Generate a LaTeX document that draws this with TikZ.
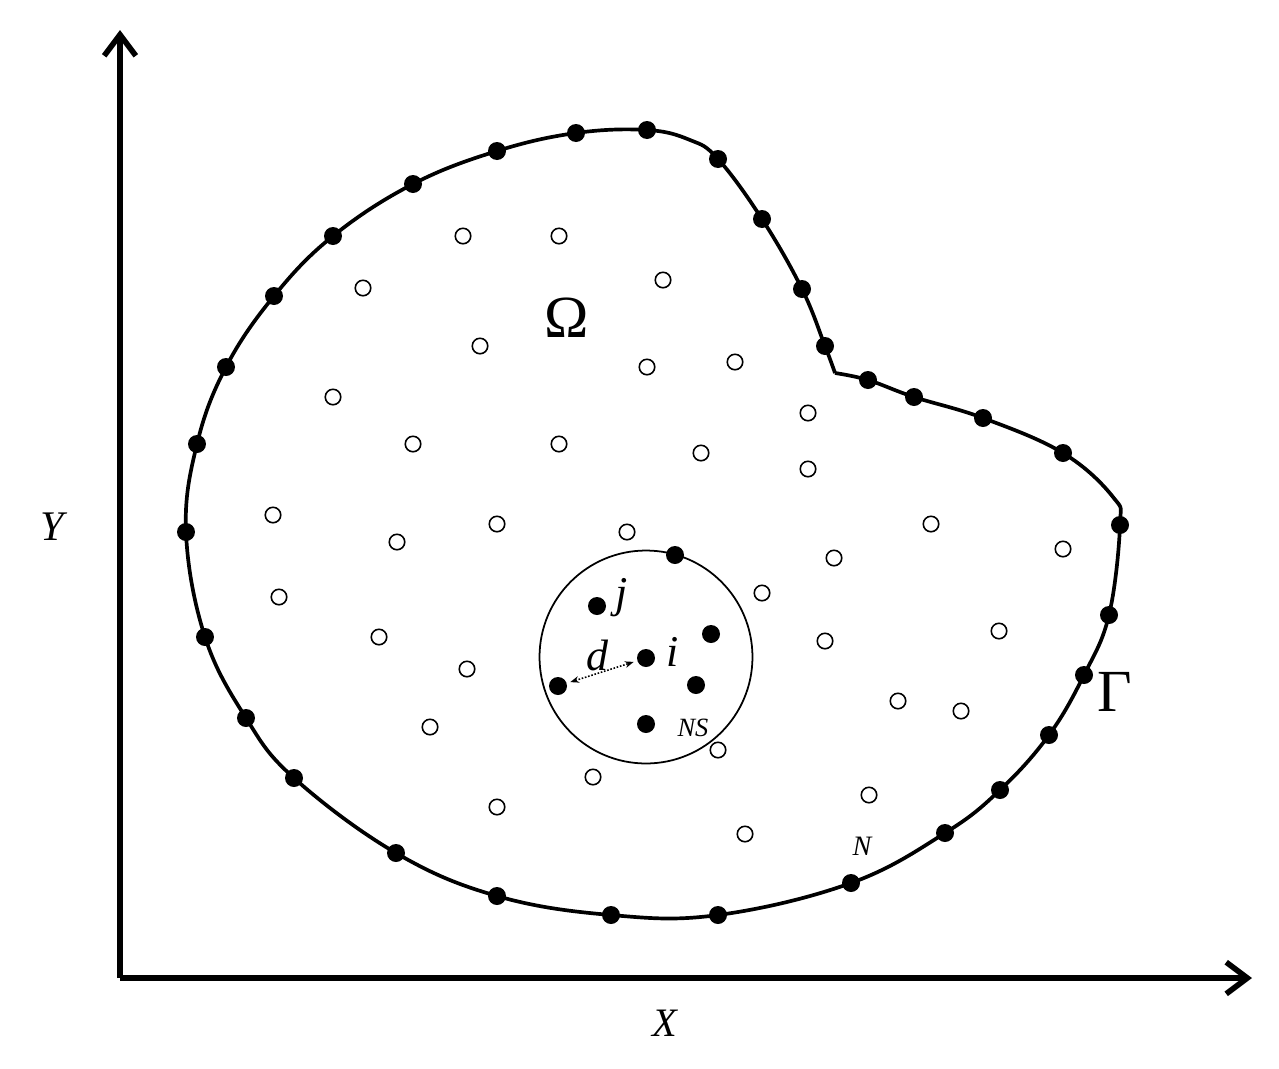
\documentclass[tikz,border=0pt]{standalone}
\usepackage{fontspec}
\setmainfont{Liberation Serif}
\usetikzlibrary{arrows.meta, positioning}

\begin{document}
\begin{tikzpicture}[x=0.02cm, y=-0.02cm,
  axis/.style={line width=3.2pt, -{Straight Barb[length=12pt, width=18pt]}},
  bnd/.style={line width=2.1pt, line join=round},
  bdot/.style={circle, fill=black, inner sep=0pt, minimum size=0.36cm},
  idot/.style={circle, draw=black, fill=white, line width=0.9pt, inner sep=0pt, minimum size=0.31cm},
  lbl/.style={font=\fontsize{25}{25}\selectfont\itshape, inner sep=0pt}
]
  \useasboundingbox (0,0) rectangle (1279,1069);

  % axes
  \coordinate (o) at (120,978);
  \coordinate (ytip) at (120,30);
  \coordinate (xtip) at (1252,978);
  \draw[axis] (o) -- (ytip);
  \draw[axis] (o) -- (xtip);
  \node[font=\fontsize{24}{24}\selectfont\itshape] (ylab) at (52,527) {Y};
  \node[font=\fontsize{23}{23}\selectfont\itshape] (xlab) at (665,1023) {X};

  % boundary Gamma
  \draw[bnd] plot[smooth, tension=0.65] coordinates {
    (835,373) (868,380) (914,397) (983,418) (1063,453) (1113,497) (1120,525)
    (1109,615) (1084,675) (1049,735) (1000,790) (945,833) (851,883)
    (718,915) (611,915) (497,896) (396,853) (294,778) (246,718)
    (205,637) (186,532) (197,444) (226,367) (274,296) (333,236) (413,184)
    (497,151) (576,133) (647,130) (690,140) (718,159) (762,219) (802,289)
    (825,346) (835,373)};

  \foreach \x/\y [count=\k] in {647/130, 718/159, 762/219, 802/289, 825/346,
      868/380, 914/397, 983/418, 1063/453, 1120/525, 1109/615, 1084/675,
      1049/735, 1000/790, 945/833, 851/883, 718/915, 611/915, 497/896,
      396/853, 294/778, 246/718, 205/637, 186/532, 197/444, 226/367,
      274/296, 333/236, 413/184, 497/151, 576/133}
    \node[bdot] (b\k) at (\x,\y) {};

  % interior nodes
  \foreach \x/\y [count=\k] in {463/236, 559/236, 363/288, 663/280, 480/346,
      647/367, 735/362, 333/397, 808/413, 413/444, 559/444, 701/453, 808/469,
      273/515, 397/542, 497/524, 627/532, 931/524, 1063/549, 834/558,
      279/597, 762/593, 379/637, 825/641, 999/631, 467/669, 898/701,
      961/711, 430/727, 718/750, 593/777, 869/795, 497/807, 745/834}
    \node[idot] (p\k) at (\x,\y) {};

  % support domain
  \node[circle, draw, line width=1pt, minimum size=4.26cm, inner sep=0pt] (supp) at (646,657) {};
  \node[bdot] (s1) at (675,555) {};
  \node[bdot] (sj) at (597,606) {};
  \node[bdot] (si) at (646,658) {};
  \node[bdot] (s2) at (711,634) {};
  \node[bdot] (s3) at (696,685) {};
  \node[bdot] (sd) at (558,686) {};
  \node[bdot] (s4) at (646,724) {};
  \draw[densely dotted, line width=0.9pt, {Stealth[length=5pt]}-{Stealth[length=5pt]},
    shorten <=2pt, shorten >=2pt] (sd) -- (si);

  \node[lbl] (jlab) at (622,598) {j};
  \node[lbl] (ilab) at (673,652) {i};
  \node[lbl] (dlab) at (597,655) {d};
  \node[font=\fontsize{15}{15}\selectfont\itshape] (nslab) at (693,728) {NS};
  \node[font=\fontsize{16}{16}\selectfont\itshape] (nlab) at (862,846) {N};
  \node[font=\fontsize{34}{34}\selectfont] (glab) at (1115,692) {Γ};
  \node[font=\fontsize{34}{34}\selectfont] (olab) at (567,318) {Ω};
\end{tikzpicture}
\end{document}
